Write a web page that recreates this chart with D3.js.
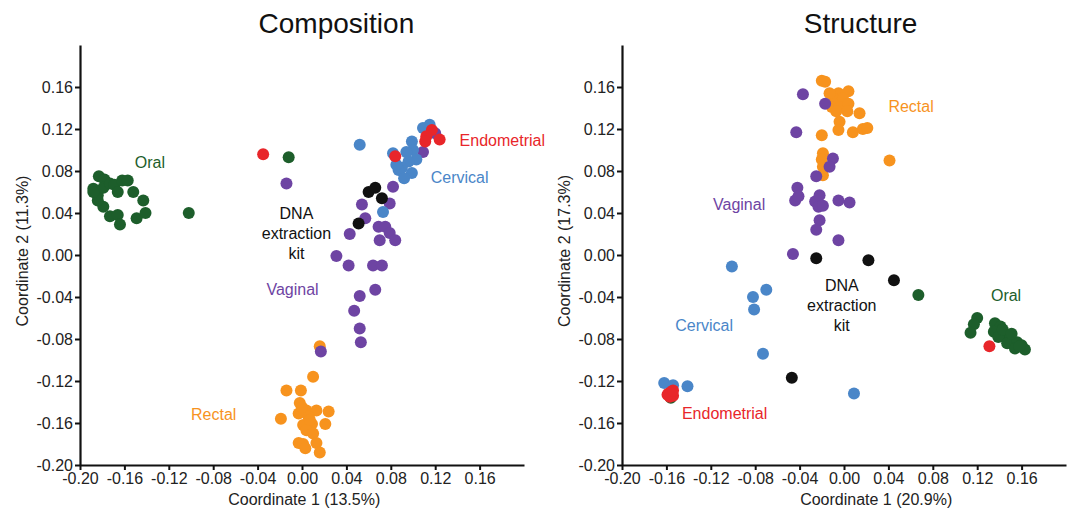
<!DOCTYPE html>
<html>
<head>
<meta charset="utf-8">
<script src="https://cdn.jsdelivr.net/npm/d3@7"></script>
<style>
  body { margin: 0; background: #fff; }
  svg { display: block; font-family: "Liberation Sans", Arial, sans-serif; }
</style>
</head>
<body>
<div id="chart"></div>
<script>
// ---- data (coordinate 1, coordinate 2) ----
const xTicks = [-0.20, -0.16, -0.12, -0.08, -0.04, 0.00, 0.04, 0.08, 0.12, 0.16];
const yTicks = [-0.20, -0.16, -0.12, -0.08, -0.04, 0.00, 0.04, 0.08, 0.12, 0.16];

// Composition
const compOral = [[-0.183,0.075],[-0.178,0.072],[-0.188,0.063],[-0.184,0.057],[-0.179,0.064],[-0.173,0.068],
  [-0.169,0.067],[-0.166,0.060],[-0.162,0.071],[-0.157,0.071],[-0.152,0.060],[-0.143,0.052],[-0.179,0.046],
  [-0.173,0.037],[-0.166,0.038],[-0.164,0.029],[-0.149,0.035],[-0.141,0.040],[-0.184,0.052],[-0.188,0.060],
  [-0.102,0.040],[-0.012,0.093]];
const compRectal = [[0.016,-0.087],[0.010,-0.116],[-0.014,-0.129],[-0.001,-0.129],[-0.002,-0.141],[-0.003,-0.151],
  [0.004,-0.148],[0.013,-0.148],[0.024,-0.149],[-0.019,-0.156],[0.006,-0.154],[0.001,-0.162],[0.009,-0.161],
  [0.021,-0.161],[0.004,-0.167],[0.010,-0.170],[-0.003,-0.179],[0.001,-0.180],[0.013,-0.179],[0.016,-0.188],
  [0.003,-0.184],[0.000,-0.145],[0.007,-0.157]];
const compVaginal = [[-0.014,0.068],[0.082,0.065],[0.079,0.049],[0.054,0.048],[0.057,0.035],[0.043,0.020],
  [0.069,0.027],[0.075,0.027],[0.079,0.021],[0.070,0.014],[0.084,0.014],[0.031,-0.001],[0.042,-0.010],
  [0.064,-0.010],[0.072,-0.010],[0.066,-0.033],[0.052,-0.039],[0.047,-0.053],[0.052,-0.070],[0.053,-0.083],
  [0.017,-0.092],[0.109,0.098],[0.120,0.116]];
const compCervical = [[0.052,0.105],[0.082,0.097],[0.115,0.124],[0.109,0.121],[0.099,0.108],[0.100,0.100],
  [0.094,0.098],[0.103,0.091],[0.096,0.089],[0.090,0.083],[0.087,0.081],[0.099,0.078],[0.092,0.073],
  [0.085,0.086],[0.073,0.041]];
const compKit = [[0.060,0.060],[0.066,0.064],[0.072,0.054],[0.051,0.030]];
const compEndometrial = [[-0.035,0.096],[0.084,0.094],[0.117,0.119],[0.112,0.113],[0.111,0.108],[0.124,0.110]];

// Structure
const structOral = [[0.067,-0.038],[0.120,-0.060],[0.117,-0.066],[0.114,-0.074],[0.136,-0.065],[0.141,-0.068],
  [0.135,-0.073],[0.145,-0.075],[0.139,-0.078],[0.150,-0.079],[0.147,-0.084],[0.156,-0.083],[0.160,-0.086],
  [0.154,-0.089],[0.163,-0.090],[0.143,-0.071],[0.151,-0.075],[0.158,-0.087],[-0.156,-0.136]];
const structRectal = [[-0.020,0.166],[-0.017,0.165],[-0.005,0.154],[0.004,0.156],[-0.008,0.148],[-0.001,0.149],
  [-0.011,0.141],[-0.004,0.141],[0.004,0.144],[-0.007,0.137],[0.003,0.137],[0.014,0.135],[-0.004,0.127],
  [-0.005,0.119],[0.008,0.117],[0.017,0.120],[0.021,0.121],[-0.020,0.114],[0.041,0.090],[-0.019,0.097],
  [-0.020,0.091],[-0.019,0.084],[-0.019,0.076],[-0.013,0.154]];
const structVaginal = [[-0.037,0.153],[-0.017,0.144],[-0.043,0.117],[-0.010,0.092],[-0.013,0.084],[-0.025,0.075],
  [-0.042,0.064],[-0.044,0.052],[-0.041,0.056],[-0.026,0.051],[-0.022,0.057],[-0.023,0.046],[-0.019,0.047],
  [-0.005,0.052],[0.005,0.050],[-0.022,0.033],[-0.025,0.024],[-0.005,0.014],[-0.046,0.001]];
const structCervical = [[-0.101,-0.011],[-0.082,-0.040],[-0.070,-0.033],[-0.081,-0.052],[-0.073,-0.094],
  [0.009,-0.132],[-0.162,-0.122],[-0.154,-0.124],[-0.141,-0.125]];
const structKit = [[-0.025,-0.003],[0.022,-0.005],[0.045,-0.024],[-0.047,-0.117]];
const structEndometrial = [[0.131,-0.087],[-0.158,-0.132],[-0.155,-0.130],[-0.154,-0.134],[-0.157,-0.135],
  [-0.159,-0.133],[-0.154,-0.129]];

const colors = {
  oral: "#1d5e2b", rectal: "#f7931e", vaginal: "#6e44a3",
  cervical: "#4a86c8", kit: "#111111", endometrial: "#e8262a"
};

// group annotations, in data units
const compLabels = [
  { text: ["Oral"], x: -0.137, y: 0.088, c: "oral", anchor: "middle" },
  { text: ["Endometrial"], x: 0.142, y: 0.109, c: "endometrial", anchor: "start" },
  { text: ["Cervical"], x: 0.116, y: 0.074, c: "cervical", anchor: "start" },
  { text: ["DNA", "extraction", "kit"], x: -0.005, y: 0.040, c: "kit", anchor: "middle" },
  { text: ["Vaginal"], x: -0.032, y: -0.033, c: "vaginal", anchor: "start" },
  { text: ["Rectal"], x: -0.100, y: -0.152, c: "rectal", anchor: "start" }
];
const structLabels = [
  { text: ["Rectal"], x: 0.040, y: 0.142, c: "rectal", anchor: "start" },
  { text: ["Vaginal"], x: -0.118, y: 0.048, c: "vaginal", anchor: "start" },
  { text: ["DNA", "extraction", "kit"], x: -0.002, y: -0.029, c: "kit", anchor: "middle" },
  { text: ["Oral"], x: 0.146, y: -0.038, c: "oral", anchor: "middle" },
  { text: ["Cervical"], x: -0.152, y: -0.067, c: "cervical", anchor: "start" },
  { text: ["Endometrial"], x: -0.146, y: -0.151, c: "endometrial", anchor: "start" }
];

const width = 1072, height = 511;
const svg = d3.select("#chart").append("svg")
  .attr("width", width)
  .attr("height", height);

function drawPanel(p) {
  const x = d3.scaleLinear().domain([-0.2, 0.2]).range([p.left, p.left + 444]);
  const y = d3.scaleLinear().domain([-0.2, 0.2]).range([465, 45]);
  const g = svg.append("g");

  // points, in the overlap order seen in the figure
  p.groups.forEach(([key, pts]) => {
    g.append("g")
      .selectAll("circle")
      .data(pts)
      .enter()
      .append("circle")
      .attr("cx", d => x(d[0]))
      .attr("cy", d => y(d[1]))
      .attr("r", 6)
      .attr("fill", colors[key]);
  });

  // axes
  const fmt = d => d.toFixed(2);
  const xAxis = g.append("g")
    .attr("transform", `translate(0,${y(-0.2)})`)
    .call(d3.axisBottom(x).tickValues(xTicks).tickFormat(fmt).tickSize(5).tickSizeOuter(0).tickPadding(3));
  const yAxis = g.append("g")
    .attr("transform", `translate(${x(-0.2)},0)`)
    .call(d3.axisLeft(y).tickValues(yTicks).tickFormat(fmt).tickSize(5).tickSizeOuter(0).tickPadding(2));
  [xAxis, yAxis].forEach(a => {
    a.select(".domain").attr("stroke", "#111").attr("stroke-width", 2.2);
    a.selectAll(".tick line").attr("stroke", "#111").attr("stroke-width", 2);
    a.selectAll(".tick text").attr("fill", "#222").style("font-size", "16px");
  });

  // group labels
  p.labels.forEach(l => {
    const t = g.append("text")
      .attr("x", x(l.x))
      .attr("y", y(l.y))
      .attr("text-anchor", l.anchor)
      .attr("fill", colors[l.c])
      .style("font-size", "16px");
    l.text.forEach((s, i) => {
      t.append("tspan")
        .attr("x", x(l.x))
        .attr("dy", i === 0 ? "0.35em" : "20")
        .text(s);
    });
  });

  // titles
  g.append("text")
    .attr("x", x(p.titleAt))
    .attr("y", 33)
    .attr("text-anchor", "middle")
    .attr("fill", "#111")
    .style("font-size", "28px")
    .text(p.title);

  g.append("text")
    .attr("x", x(p.xLabelAt))
    .attr("y", 505)
    .attr("text-anchor", "middle")
    .attr("fill", "#222")
    .style("font-size", "16px")
    .text(p.xLabel);

  g.append("text")
    .attr("transform", `translate(${p.left - 58},251) rotate(-90)`)
    .attr("text-anchor", "middle")
    .attr("dy", "0.35em")
    .attr("fill", "#222")
    .style("font-size", "16px")
    .text(p.yLabel);
}

drawPanel({
  left: 80,
  title: "Composition", titleAt: 0.031,
  xLabel: "Coordinate 1 (13.5%)", xLabelAt: 0.002,
  yLabel: "Coordinate 2 (11.3%)",
  groups: [["oral", compOral], ["rectal", compRectal], ["vaginal", compVaginal],
           ["cervical", compCervical], ["kit", compKit], ["endometrial", compEndometrial]],
  labels: compLabels
});

drawPanel({
  left: 622,
  title: "Structure", titleAt: 0.015,
  xLabel: "Coordinate 1 (20.9%)", xLabelAt: 0.029,
  yLabel: "Coordinate 2 (17.3%)",
  groups: [["oral", structOral], ["rectal", structRectal], ["cervical", structCervical],
           ["vaginal", structVaginal], ["kit", structKit], ["endometrial", structEndometrial]],
  labels: structLabels
});
</script>
</body>
</html>
